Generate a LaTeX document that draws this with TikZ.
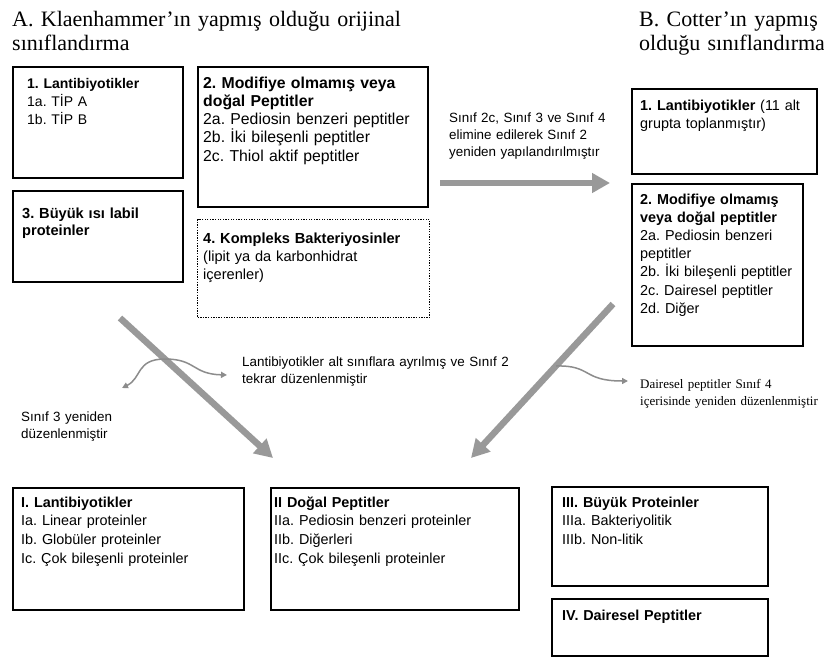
\documentclass[tikz,border=0pt]{standalone}
\usepackage{fontspec}
\setmainfont{Liberation Serif}
\setsansfont{Liberation Sans}
\usetikzlibrary{arrows.meta}
\definecolor{biggray}{HTML}{999999}
\definecolor{smallgray}{HTML}{8C8C8C}
\begin{document}
\frenchspacing
\begin{tikzpicture}[x=1pt,y=-1pt,
  box/.style={draw=black, line width=1.9pt, anchor=north west, inner sep=0pt},
  dbox/.style={draw=black, line width=1.3pt, dash pattern=on 1.3pt off 1.3pt, anchor=north west, inner sep=0pt},
  txt/.style={anchor=base west, inner sep=0pt, align=left},
  sA/.style={font=\sffamily\fontsize{14}{18}\selectfont},
  sB/.style={font=\sffamily\fontsize{15.8}{18.3}\selectfont},
  sC/.style={font=\sffamily\fontsize{14.4}{18.2}\selectfont},
  sD/.style={font=\sffamily\fontsize{14.4}{18.7}\selectfont},
  note/.style={anchor=base west, inner sep=0pt, align=left, font=\sffamily\fontsize{13.4}{17}\selectfont},
  snote/.style={anchor=base west, inner sep=0pt, align=left, font=\rmfamily\fontsize{13}{17}\selectfont},
  title/.style={anchor=base west, inner sep=0pt, align=left, font=\rmfamily\fontsize{22}{24.5}\selectfont},
  bigarrow/.style={draw=biggray, line width=6.5pt, -{Triangle[length=18pt,width=19pt]}},
  smallarrow/.style={draw=smallgray, line width=1.5pt},
]
\useasboundingbox (0,0) rectangle (824,656);

% titles
\node[title, text width=420pt] (tA) at (12,26) {A. Klaenhammer’ın yapmış olduğu orijinal\\sınıflandırma};
\node[title, text width=190pt] (tB) at (639,26) {B. Cotter’ın yapmış\\olduğu sınıflandırma};

% Klaenhammer boxes
\node[box, minimum width=170pt, minimum height=111pt] (k1) at (12,66) {};
\node[txt, sA, text width=150pt] (k1t) at (27,88) {\textbf{1. Lantibiyotikler}\\1a. TİP A\\1b. TİP B};

\node[box, minimum width=230pt, minimum height=140pt] (k2) at (197,66) {};
\node[txt, sB, text width=222pt] (k2t) at (203,88) {\textbf{2. Modifiye olmamış veya}\\\textbf{doğal Peptitler}\\2a. Pediosin benzeri peptitler\\2b. İki bileşenli peptitler\\2c. Thiol aktif peptitler};

\node[box, minimum width=170pt, minimum height=91pt] (k3) at (12,190) {};
\node[txt, font=\sffamily\bfseries\fontsize{14.6}{17.5}\selectfont, text width=155pt] (k3t) at (22,218) {3. Büyük ısı labil\\proteinler};

\node[dbox, minimum width=232pt, minimum height=98pt] (k4) at (197,219) {};
\node[txt, font=\sffamily\fontsize{14.6}{18}\selectfont, text width=222pt] (k4t) at (203,243) {\textbf{4. Kompleks Bakteriyosinler}\\(lipit ya da karbonhidrat\\içerenler)};

% Cotter boxes
\node[box, minimum width=185pt, minimum height=85pt] (c1) at (631,88) {};
\node[txt, sC, text width=175pt] (c1t) at (640,110) {\textbf{1. Lantibiyotikler} (11 alt\\grupta toplanmıştır)};

\node[box, minimum width=171pt, minimum height=162pt] (c2) at (631,183) {};
\node[txt, sC, text width=162pt] (c2t) at (640,204) {\textbf{2. Modifiye olmamış}\\\textbf{veya doğal peptitler}\\2a. Pediosin benzeri\\peptitler\\2b. İki bileşenli peptitler\\2c. Dairesel peptitler\\2d. Diğer};

% bottom boxes
\node[box, minimum width=231pt, minimum height=122pt] (b1) at (12,487) {};
\node[txt, sD, text width=220pt] (b1t) at (21,507) {\textbf{I. Lantibiyotikler}\\Ia. Linear proteinler\\Ib. Globüler proteinler\\Ic. Çok bileşenli proteinler};

\node[box, minimum width=248pt, minimum height=122pt] (b2) at (270,487) {};
\node[txt, sD, text width=240pt] (b2t) at (274,507) {\textbf{II Doğal Peptitler}\\IIa. Pediosin benzeri proteinler\\IIb. Diğerleri\\IIc. Çok bileşenli proteinler};

\node[box, minimum width=216pt, minimum height=99pt] (b3) at (551,486) {};
\node[txt, sD, text width=200pt] (b3t) at (562,507) {\textbf{III. Büyük Proteinler}\\IIIa. Bakteriyolitik\\IIIb. Non-litik};

\node[box, minimum width=216pt, minimum height=57pt] (b4) at (551,598) {};
\node[txt, sD, text width=200pt] (b4t) at (562,620) {\textbf{IV. Dairesel Peptitler}};

% notes
\node[note, text width=170pt] (n1) at (449,122) {Sınıf 2c, Sınıf 3 ve Sınıf 4\\elimine edilerek Sınıf 2\\yeniden yapılandırılmıştır};
\node[note, text width=300pt] (n2) at (242,366) {Lantibiyotikler alt sınıflara ayrılmış ve Sınıf 2\\tekrar düzenlenmiştir};
\node[note, text width=120pt] (n3) at (21,421) {Sınıf 3 yeniden\\düzenlenmiştir};
\node[snote, text width=190pt] (n4) at (640,388) {Dairesel peptitler Sınıf 4\\içerisinde yeniden düzenlenmiştir};

% big arrows
\coordinate (h1) at (440,183);
\coordinate (h2) at (610,183);
\coordinate (d1) at (120,318);
\coordinate (d2) at (273,458);
\coordinate (e1) at (613,304);
\coordinate (e2) at (471,458);
\draw[bigarrow] (h1) -- (h2);
\draw[bigarrow] (d1) -- (d2);
\draw[bigarrow] (e1) -- (e2);

% small curved arrows
\coordinate (s1) at (122,388);
\coordinate (s2) at (227,375);
\draw[smallarrow, {Triangle[length=6pt,width=6pt]}-{Triangle[length=6pt,width=6pt]}] (s1) .. controls (142,378) and (136,359) .. (165,359) .. controls (196,359) and (192,374) .. (s2);
\coordinate (r1) at (556,366);
\coordinate (r2) at (628,381);
\draw[smallarrow, -{Triangle[length=6pt,width=6pt]}] (r1) .. controls (592,365) and (582,381) .. (r2);
\end{tikzpicture}
\end{document}
